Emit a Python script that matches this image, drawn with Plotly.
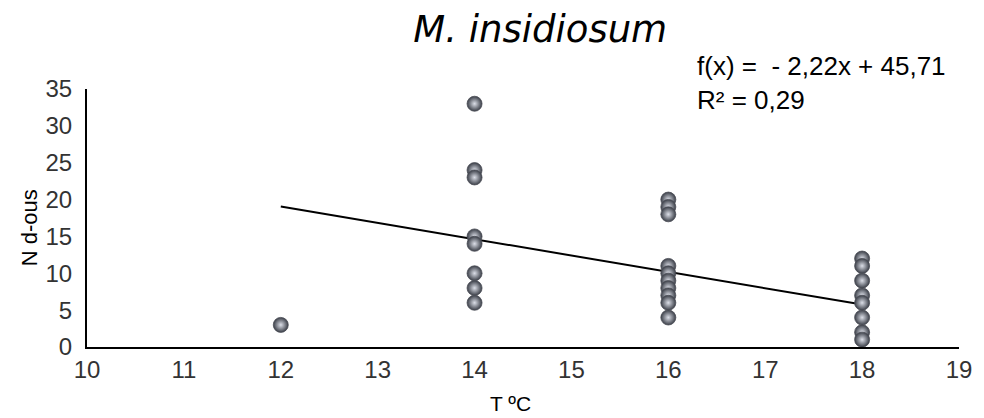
import plotly.graph_objects as go

# Counts of individuals observed at each water temperature
temp_12 = [12]
count_12 = [3]
temp_14 = [14] * 8
count_14 = [33, 24, 23, 15, 14, 10, 8, 6]
temp_16 = [16] * 10
count_16 = [20, 19, 18, 11, 10, 9, 8, 7, 6, 4]
temp_18 = [18] * 8
count_18 = [12, 11, 9, 7, 6, 4, 2, 1]

# Linear trend reported on the chart
slope = -2.22
intercept = 45.71
r_squared = 0.29
trend_x = [12, 18]

x_vals = temp_12 + temp_14 + temp_16 + temp_18
y_vals = count_12 + count_14 + count_16 + count_18
trend_y = [slope * t + intercept for t in trend_x]

fig = go.Figure()
fig.add_trace(go.Scatter(
    x=trend_x, y=trend_y, mode="lines",
    line=dict(color="black", width=2), hoverinfo="skip", showlegend=False,
))
fig.add_trace(go.Scatter(
    x=x_vals, y=y_vals, mode="markers", showlegend=False,
    marker=dict(
        size=15, color="#3a3e47",
        gradient=dict(type="radial", color="#dcdfe8"),
        line=dict(width=0.8, color="#4a4d55"),
    ),
))

label_font = "Liberation Sans, Arial, sans-serif"
equation = (f"f(x) =  - {abs(slope):.2f}x + {intercept:.2f}".replace(".", ",")
            + f"<br>R² = {r_squared:.2f}".replace(".", ","))

fig.update_layout(
    width=984, height=418,
    margin=dict(l=87, r=22, t=89, b=71),
    plot_bgcolor="white", paper_bgcolor="white",
    font=dict(family=label_font, color="#333333"),
    title=dict(
        text="<i>M. insidiosum</i>", x=0.549, xanchor="center", y=0.93, yanchor="middle",
        font=dict(family="DejaVu Sans", size=37, color="black"),
    ),
    xaxis=dict(
        range=[10, 19], tickvals=list(range(10, 20)), showgrid=False, zeroline=False,
        showline=True, linecolor="black", linewidth=2, ticks="",
        tickfont=dict(size=24, color="#333333"),
    ),
    yaxis=dict(
        range=[0, 35], tickvals=list(range(0, 36, 5)), showgrid=False, zeroline=False,
        showline=True, linecolor="black", linewidth=2, ticks="",
        tickfont=dict(size=24, color="#333333"), ticklabelstandoff=8,
    ),
    annotations=[
        dict(
            xref="paper", yref="paper", x=0.697, y=1.155, xanchor="left", yanchor="top",
            text=equation, showarrow=False, align="left",
            font=dict(family=label_font, size=26, color="black"),
        ),
        # axis titles
        dict(
            xref="paper", yref="paper", x=0.4855, y=-0.22, xanchor="center", yanchor="middle",
            text="T ºC", showarrow=False,
            font=dict(family=label_font, size=21, color="black"),
        ),
        dict(
            xref="paper", yref="paper", x=-0.0665, y=0.46, xanchor="center", yanchor="middle",
            text="N d-ous", showarrow=False, textangle=-90,
            font=dict(family=label_font, size=22, color="black"),
        ),
    ],
)

fig.write_html("out.html")
